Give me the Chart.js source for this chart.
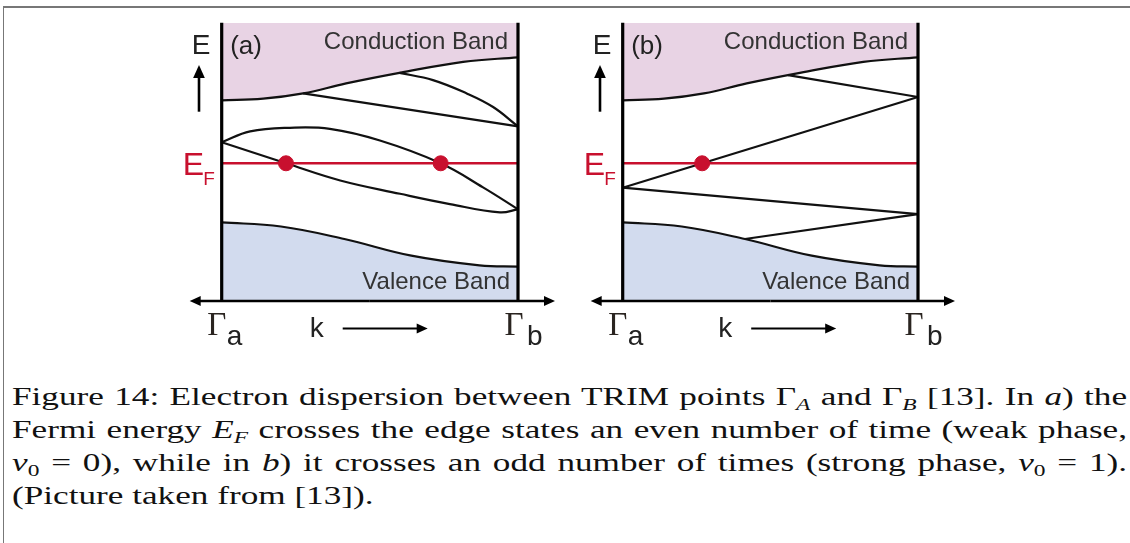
<!DOCTYPE html>
<html>
<head>
<meta charset="utf-8">
<script src="https://cdn.jsdelivr.net/npm/chart.js@4.4.1/dist/chart.umd.min.js"></script>
<style>
  body { margin: 0; background: #fff; width: 1130px; height: 543px; overflow: hidden; position: relative; }
  .frameTop { position: absolute; left: 3px; top: 6px; width: 1127px; height: 2px; background: #777; }
  .frameLeft { position: absolute; left: 3px; top: 6px; width: 1px; height: 537px; background: #777; }
  .panel { position: absolute; top: 0; width: 400px; height: 360px; }
  #caption { position: absolute; left: 12px; top: 380px; width: 808px;
             transform: scaleX(1.38); transform-origin: 0 0;
             font-family: "Liberation Serif", "DejaVu Serif", serif; font-size: 25.5px; color: #111; }
  #caption div { height: 33px; line-height: 33px; text-align: justify; text-align-last: justify; white-space: nowrap; }
  #caption div.last { text-align-last: left; }
  #caption sub { font-size: 17px; line-height: 0; vertical-align: -5px; }
</style>
</head>
<body>
<div class="frameTop"></div>
<div class="frameLeft"></div>
<div class="panel" style="left:170px"><canvas id="panelA" width="400" height="360"></canvas></div>
<div class="panel" style="left:570px"><canvas id="panelB" width="400" height="360"></canvas></div>

<div id="caption">
  <div>Figure 14: Electron dispersion between TRIM points Γ<sub><i>A</i></sub> and Γ<sub><i>B</i></sub> [13]. In <i>a</i>) the</div>
  <div>Fermi energy <i>E</i><sub><i>F</i></sub> crosses the edge states an even number of time (weak phase,</div>
  <div><i>ν</i><sub>0</sub> = 0), while in <i>b</i>) it crosses an odd number of times (strong phase, <i>ν</i><sub>0</sub> = 1).</div>
  <div class="last">(Picture taken from [13]).</div>
</div>

<script>
// k runs from Gamma_a (0) to Gamma_b (1), energy in arbitrary units 0..100
const EF = 49.3;

// band edges (same in both panels)
const kCB = [0, 0.14, 0.275, 0.42, 0.6, 0.815, 1];
const eCB = [72.0, 72.6, 74.5, 78.1, 81.9, 85.9, 87.5];
const kVB = [0, 0.2, 0.414, 0.64, 0.87, 1];
const eVB = [28.0, 26.5, 22.0, 16.0, 12.5, 12.0];

// panel (a): weak phase
const kA_cbLine = [0.275, 1];
const eA_cbLine = [74.5, 62.6];
const kA_cbCurve = [0.6, 0.713, 0.827, 0.916, 1];
const eA_cbCurve = [81.9, 79.3, 74.5, 69.6, 62.6];
const kA_upper = [0, 0.096, 0.23, 0.365, 0.534, 0.739, 0.882, 1];
const eA_upper = [56.9, 60.8, 62.1, 61.7, 57.5, 49.3, 40.6, 32.7];
const kA_lower = [0, 0.217, 0.4, 0.602, 0.77, 0.939, 1];
const eA_lower = [56.9, 49.3, 43.1, 38.3, 34.6, 31.6, 32.7];
const kA_cross = [0.217, 0.739];

// panel (b): strong phase
const kB_cbLine = [0.56, 1];
const eB_cbLine = [81.1, 73.2];
const kB_upper = [0, 1];
const eB_upper = [40.5, 73.2];
const kB_lower = [0, 1];
const eB_lower = [40.5, 31.0];
const kB_vbLine = [0.414, 1];
const eB_vbLine = [22.0, 31.0];
const kB_cross = [0.269];

const PINK = 'rgb(232, 211, 228)';
const BLUE = 'rgb(210, 219, 238)';
const RED = 'rgb(200, 16, 46)';
const SANS = '"Liberation Sans", Arial, sans-serif';
const SERIF = '"Liberation Serif", serif';

function pts(ks, es) {
    return ks.map((k, i) => ({ x: k, y: es[i] }));
}

function curve(ks, es, extra) {
    return Object.assign({
        data: pts(ks, es),
        borderColor: '#111',
        borderWidth: 2.2,
        pointRadius: 0,
        tension: 0.4,
        fill: false,
        clip: false,
        order: 2
    }, extra || {});
}

function arrow(ctx, x1, y1, x2, y2, size) {
    const a = Math.atan2(y2 - y1, x2 - x1);
    ctx.beginPath();
    ctx.moveTo(x1, y1);
    ctx.lineTo(x2 - Math.cos(a) * size * 0.6, y2 - Math.sin(a) * size * 0.6);
    ctx.stroke();
    ctx.beginPath();
    ctx.moveTo(x2, y2);
    ctx.lineTo(x2 - size * Math.cos(a) + size * 0.45 * Math.sin(a), y2 - size * Math.sin(a) - size * 0.45 * Math.cos(a));
    ctx.lineTo(x2 - size * Math.cos(a) - size * 0.45 * Math.sin(a), y2 - size * Math.sin(a) + size * 0.45 * Math.cos(a));
    ctx.closePath();
    ctx.fill();
}

const decorations = {
    id: 'decorations',
    afterDatasetsDraw(chart, args, opts) {
        const { ctx, chartArea: ca } = chart;
        const { left, right, top, bottom } = ca;
        ctx.save();
        ctx.strokeStyle = '#000';
        ctx.fillStyle = '#000';

        // the two TRIM point axes
        ctx.lineWidth = 3.2;
        ctx.beginPath();
        ctx.moveTo(left, top); ctx.lineTo(left, bottom + 1);
        ctx.moveTo(right, top); ctx.lineTo(right, bottom + 1);
        ctx.stroke();

        // k axis, arrows both ways
        ctx.lineWidth = 2.4;
        const yb = bottom + 1;
        arrow(ctx, (left + right) / 2, yb, right + 37, yb, 11);
        arrow(ctx, (left + right) / 2, yb, left - 32, yb, 11);

        // energy arrow
        ctx.lineWidth = 2.6;
        arrow(ctx, left - 22.7, 111.7, left - 22.7, 65, 13);

        // k label and arrow
        ctx.lineWidth = 2;
        arrow(ctx, left + opts.kx + 33, 328.5, left + opts.kx + 118, 328.5, 11);

        ctx.textBaseline = 'alphabetic';
        ctx.textAlign = 'left';
        ctx.fillStyle = '#222';
        ctx.font = '28px ' + SANS;
        ctx.fillText('E', left - 30, 53.5);
        ctx.font = '26px ' + SANS;
        ctx.fillText(opts.tag, left + 8.5, 54);
        ctx.font = '28px ' + SANS;
        ctx.fillText('k', left + opts.kx, 337);

        ctx.fillStyle = '#333';
        ctx.font = '24px ' + SANS;
        ctx.textAlign = 'right';
        ctx.fillText('Conduction Band', right - 10, 48.5);
        ctx.fillText('Valence Band', right - 8, 288.5);

        // Gamma points
        ctx.textAlign = 'left';
        ctx.fillStyle = '#2a2420';
        ctx.font = '33px ' + SERIF;
        ctx.fillText('Γ', left - 14.5, 335);
        ctx.fillText('Γ', right - 13.5, 335);
        ctx.fillStyle = '#222';
        ctx.font = '28px ' + SANS;
        ctx.fillText('a', left + 5, 345);
        ctx.fillText('b', right + 9, 345);

        // Fermi energy label
        ctx.fillStyle = RED;
        ctx.font = '32px ' + SANS;
        ctx.fillText('E', left - 39, 175);
        ctx.font = '19px ' + SANS;
        ctx.fillText('F', left - 18.5, 185);
        ctx.restore();
    }
};

function makePanel(id, tag, kx, padLeft, padRight, lines, cross) {
    const datasets = [
        curve(kCB, eCB, { fill: 'end', backgroundColor: PINK, order: 3 }),
        curve(kVB, eVB, { fill: 'start', backgroundColor: BLUE, order: 3 })
    ].concat(lines).concat([
        { data: [{ x: 0, y: EF }, { x: 1, y: EF }], borderColor: RED, borderWidth: 2.6,
          pointRadius: 0, fill: false, clip: false, order: 1 },
        { type: 'scatter', data: cross.map(k => ({ x: k, y: EF })), backgroundColor: RED,
          borderColor: RED, pointRadius: 7.5, showLine: false, clip: false, order: 0 }
    ]);
    return new Chart(document.getElementById(id), {
        type: 'line',
        data: { datasets: datasets },
        options: {
            responsive: false,
            animation: false,
            layout: { padding: { left: padLeft, right: padRight, top: 22.7, bottom: 60 } },
            scales: {
                x: { type: 'linear', min: 0, max: 1, display: false },
                y: { min: 0, max: 100, display: false }
            },
            plugins: {
                legend: { display: false },
                tooltip: { enabled: false },
                decorations: { tag: tag, kx: kx }
            }
        },
        plugins: [decorations]
    });
}

makePanel('panelA', '(a)', 88, 51.7, 52, [
    curve(kA_cbLine, eA_cbLine, { tension: 0 }),
    curve(kA_cbCurve, eA_cbCurve),
    curve(kA_upper, eA_upper),
    curve(kA_lower, eA_lower)
], kA_cross);

makePanel('panelB', '(b)', 95.5, 52.7, 52, [
    curve(kB_cbLine, eB_cbLine, { tension: 0 }),
    curve(kB_upper, eB_upper, { tension: 0 }),
    curve(kB_lower, eB_lower, { tension: 0 }),
    curve(kB_vbLine, eB_vbLine, { tension: 0 })
], kB_cross);
</script>
</body>
</html>
